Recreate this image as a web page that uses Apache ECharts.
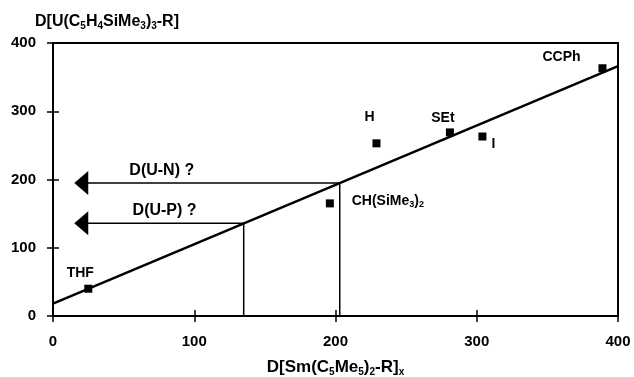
<!DOCTYPE html>
<html>
<head>
<meta charset="utf-8">
<script src="https://cdn.jsdelivr.net/npm/echarts@6/dist/echarts.min.js"></script>
<style>
  html, body { margin: 0; padding: 0; background: #fff; }
  #chart { width: 634px; height: 377px; }
</style>
</head>
<body>
<div id="chart"></div>
<script>
// compounds R and their bond enthalpies
const ligands = ['THF', 'CH(SiMe{s|3}){s|2}', 'H', 'SEt', 'I', 'CCPh'];
const smValues = [25, 196, 229, 281, 304, 389];
const uValues = [40, 165, 253, 269, 263, 363];
// fitted line end points
const fitX = [0, 400];
const fitY = [18, 366];
// read-off guides
const guideUP = [135, 136];
const guideUN = [203, 195];
const arrowEndX = 20;
const guideText = ['D(U-P) ?', 'D(U-N) ?'];
const guideTextPos = [[79, 154], [77, 213]];

const FONT = 'Liberation Sans, Arial, sans-serif';
const labelOffsets = [[-8, -5], [58, 9], [-7, -15], [-7, -3], [11, 19], [-41, 0]];
const sub = { color: '#000', fontSize: 9, fontWeight: 'bold', fontFamily: FONT, verticalAlign: 'bottom', padding: [0, 0, -1, 0] };
const subBig = Object.assign({}, sub, { fontSize: 10 });
const main = { color: '#000', fontSize: 14, fontWeight: 'bold', fontFamily: FONT };

let myChart = echarts.init(document.getElementById('chart'));

function guideLine(pt) {
  return [[pt[0], 0], [pt[0], pt[1]], [arrowEndX, pt[1]]];
}

let option = {
  animation: false,
  grid: { left: 53, right: 16, top: 43, bottom: 61, show: true, borderColor: '#000', borderWidth: 2, outerBoundsMode: 'none' },
  xAxis: [{
    type: 'value', min: 0, max: 400, interval: 100,
    name: 'D[Sm(C{s|5}Me{s|5}){s|2}-R]{s|x}',
    nameLocation: 'middle', nameGap: 43,
    nameTextStyle: { color: '#000', fontSize: 17, fontWeight: 'bold', fontFamily: FONT, rich: { s: subBig } },
    axisLine: { lineStyle: { color: '#000', width: 2 } },
    axisTick: { length: 6, lineStyle: { color: '#000', width: 1.5 } },
    axisLabel: { color: '#000', fontSize: 15, fontWeight: 'bold', fontFamily: FONT, margin: 18 },
    splitLine: { show: false }
  }, {
    type: 'value', min: 0, max: 400, interval: 100, position: 'bottom',
    axisLine: { show: false },
    axisTick: { inside: true, length: 6, lineStyle: { color: '#000', width: 1.5 } },
    axisLabel: { show: false }, splitLine: { show: false }
  }],
  yAxis: [{
    type: 'value', min: 0, max: 400, interval: 100,
    name: 'D[U(C{s|5}H{s|4}SiMe{s|3}){s|3}-R]',
    nameLocation: 'end', nameGap: 13,
    nameTextStyle: { color: '#000', fontSize: 16, fontWeight: 'bold', fontFamily: FONT, align: 'left', padding: [0, 0, 0, -18], rich: { s: subBig } },
    axisLine: { lineStyle: { color: '#000', width: 2 } },
    axisTick: { length: 6, lineStyle: { color: '#000', width: 1.5 } },
    axisLabel: { color: '#000', fontSize: 15, fontWeight: 'bold', fontFamily: FONT, margin: 17 },
    splitLine: { show: false }
  }, {
    type: 'value', min: 0, max: 400, interval: 100, position: 'left',
    axisLine: { show: false },
    axisTick: { inside: true, length: 6, lineStyle: { color: '#000', width: 1.5 } },
    axisLabel: { show: false }, splitLine: { show: false }
  }],
  series: [
    {
      type: 'line', data: fitX.map((x, i) => [x, fitY[i]]),
      symbol: 'none', lineStyle: { color: '#000', width: 2.5 }, z: 3
    },
    {
      type: 'line', data: guideLine(guideUP),
      symbol: 'none', lineStyle: { color: '#000', width: 1.5 },
      markPoint: {
        symbol: 'triangle', symbolSize: [24, 14], symbolRotate: 90,
        itemStyle: { color: '#000' }, label: { show: false },
        data: [{ coord: [arrowEndX, guideUP[1]] }]
      }
    },
    {
      type: 'line', data: guideLine(guideUN),
      symbol: 'none', lineStyle: { color: '#000', width: 1.5 },
      markPoint: {
        symbol: 'triangle', symbolSize: [24, 14], symbolRotate: 90,
        itemStyle: { color: '#000' }, label: { show: false },
        data: [{ coord: [arrowEndX, guideUN[1]] }]
      }
    },
    {
      type: 'scatter', symbol: 'rect', symbolSize: 8,
      itemStyle: { color: '#000', opacity: 1 }, z: 4,
      data: smValues.map((x, i) => ({
        value: [x, uValues[i]],
        label: { offset: labelOffsets[i], color: '#000' }
      })),
      label: {
        show: true, position: 'top', distance: 0, color: '#000',
        opacity: 1, textBorderWidth: 0,
        fontSize: 14, fontWeight: 'bold', fontFamily: FONT,
        formatter: p => '{m|' + ligands[p.dataIndex].replace(/\{s\|(\d)\}/g, '}{s|$1}{m|') + '}',
        rich: { m: main, s: sub }
      }
    },
    {
      type: 'scatter', symbolSize: 0,
      itemStyle: { opacity: 1 },
      data: guideTextPos.map((p, i) => ({ value: p, name: guideText[i] })),
      label: {
        show: true, position: 'inside', color: '#000',
        fontSize: 16, fontWeight: 'bold', fontFamily: FONT,
        formatter: p => p.name
      }
    }
  ]
};
myChart.setOption(option);
</script>
</body>
</html>
